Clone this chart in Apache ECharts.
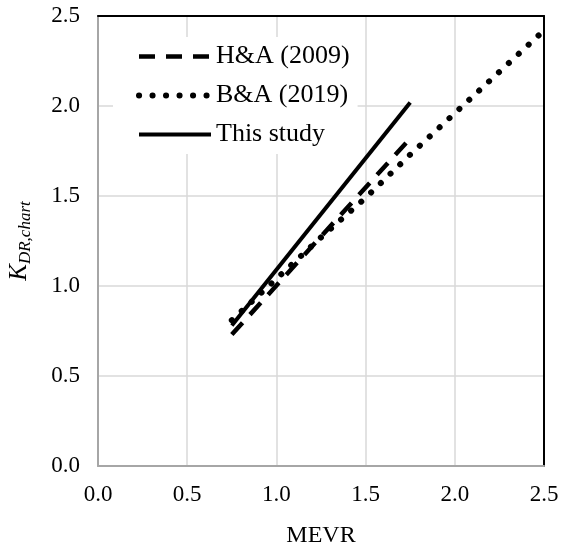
<!DOCTYPE html>
<html>
<head>
<meta charset="utf-8">
<script src="https://cdn.jsdelivr.net/npm/echarts@6/dist/echarts.min.js"></script>
<style>
  html, body { margin: 0; padding: 0; background: #fff; }
  #main { width: 566px; height: 546px; }
</style>
</head>
<body>
<div id="main"></div>
<script>
  // values
  var tickLabels = ['0.0', '0.5', '1.0', '1.5', '2.0', '2.5'];
  var seriesNames = ['H&A (2009)', 'B&A (2019)', 'This study'];
  var haData = [[0.75, 0.73], [1.75, 1.82]];
  var baData = [[0.75, 0.81], [1.0, 1.04], [1.25, 1.27], [1.5, 1.49], [1.75, 1.73], [2.0, 1.96], [2.25, 2.19], [2.5, 2.42]];
  var studyData = [[0.75, 0.78], [1.75, 2.02]];

  var font = 'Liberation Serif';
  var chart = echarts.init(document.getElementById('main'));

  function labelFmt(v) {
    return tickLabels[Math.round(v / 0.5)];
  }

  chart.setOption({
    animation: false,
    textStyle: { fontFamily: font, color: '#000' },
    grid: { left: 98, right: 22, top: 16, bottom: 80, outerBoundsMode: 'none', containLabel: false },
    legend: {
      left: 113,
      top: 37,
      orient: 'vertical',
      backgroundColor: '#fff',
      padding: [4, 8, 4, 23],
      itemWidth: 72,
      itemHeight: 14,
      itemGap: 8,
      itemStyle: { opacity: 0 },
      lineStyle: { width: 'inherit' },
      textStyle: { fontFamily: font, fontSize: 26, color: '#000', lineHeight: 31 },
      data: seriesNames
    },
    xAxis: [{
      type: 'value', min: 0, max: 2.5, interval: 0.5,
      name: 'MEVR', nameLocation: 'middle', nameGap: 58,
      nameTextStyle: { fontFamily: font, fontSize: 24, color: '#000' },
      axisLine: { show: true, onZero: false, lineStyle: { color: '#a6a6a6', width: 2 } },
      axisTick: { show: false },
      axisLabel: { fontFamily: font, fontSize: 23, color: '#000', margin: 17, formatter: labelFmt },
      splitLine: { lineStyle: { color: '#d9d9d9', width: 1.5 } }
    }, {
      type: 'value', min: 0, max: 2.5, interval: 0.5, position: 'top',
      axisLine: { show: true, onZero: false, lineStyle: { color: '#000', width: 2 } },
      axisTick: { show: false }, axisLabel: { show: false }, splitLine: { show: false }
    }],
    yAxis: [{
      type: 'value', min: 0, max: 2.5, interval: 0.5,
      name: '{k|K}{s|DR,chart}', nameLocation: 'middle', nameGap: 64,
      nameTextStyle: {
        rich: {
          k: { fontFamily: font, fontSize: 25, fontStyle: 'italic', color: '#000' },
          s: { fontFamily: font, fontSize: 17, fontStyle: 'italic', color: '#000', verticalAlign: 'bottom', padding: [12, 0, 0, 0] }
        }
      },
      axisLine: { show: true, onZero: false, lineStyle: { color: '#a6a6a6', width: 2 } },
      axisTick: { show: false },
      axisLabel: { fontFamily: font, fontSize: 23, color: '#000', margin: 18, formatter: labelFmt },
      splitLine: { lineStyle: { color: '#d9d9d9', width: 1.5 } }
    }, {
      type: 'value', min: 0, max: 2.5, interval: 0.5, position: 'right',
      axisLine: { show: true, onZero: false, lineStyle: { color: '#000', width: 2 } },
      axisTick: { show: false }, axisLabel: { show: false }, splitLine: { show: false }
    }],
    series: [{
      name: seriesNames[0],
      type: 'line',
      data: haData,
      symbol: 'none',
      lineStyle: { color: '#000', width: 4.5, type: [16, 11] },
      itemStyle: { color: '#000' },
      z: 3
    }, {
      name: seriesNames[1],
      type: 'line',
      data: baData,
      symbol: 'none',
      lineStyle: { color: '#000', width: 6, type: [0.1, 13.4], cap: 'round' },
      itemStyle: { color: '#000' },
      z: 2
    }, {
      name: seriesNames[2],
      type: 'line',
      data: studyData,
      symbol: 'none',
      lineStyle: { color: '#000', width: 4 },
      itemStyle: { color: '#000' },
      z: 4
    }]
  });
</script>
</body>
</html>
